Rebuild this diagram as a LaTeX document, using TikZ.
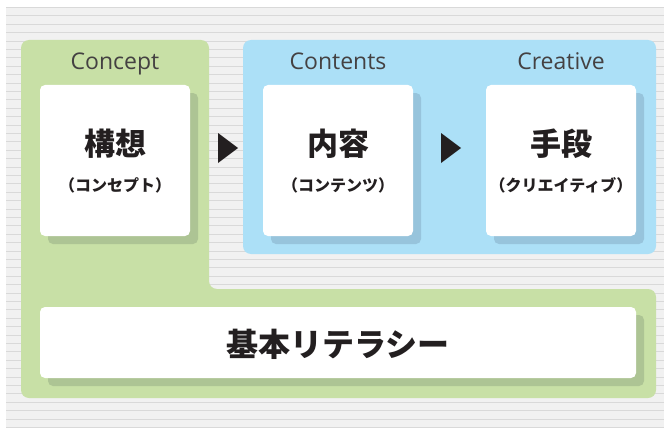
\documentclass[tikz,border=0pt]{standalone}
\usepackage{fontspec}
\setmainfont{Open Sans}
\newfontfamily\cjk{Noto Sans CJK JP}
\usetikzlibrary{shadows}
\definecolor{bgfill}{HTML}{F1F1F1}
\definecolor{bgline}{HTML}{D9D9D9}
\definecolor{gfill}{HTML}{C8E0A6}
\definecolor{gshad}{HTML}{ADC494}
\definecolor{bfill}{HTML}{ACE0F7}
\definecolor{bshad}{HTML}{97C4DC}
\definecolor{ink}{HTML}{231F20}
\tikzset{
  boxbase/.style={fill=white, rounded corners=5pt, inner sep=0pt, draw=none},
  gbox/.style={boxbase, general shadow={fill=gshad, shadow xshift=8pt, shadow yshift=-8pt}},
  bbox/.style={boxbase, general shadow={fill=bshad, shadow xshift=8pt, shadow yshift=-8pt}},
  headlbl/.style={font=\fontsize{23}{23}\selectfont, text=ink!85, anchor=base},
  bigjp/.style={font=\cjk\bfseries\fontsize{31}{31}\selectfont, text=ink},
  subjp/.style={font=\cjk\bfseries\fontsize{16}{16}\selectfont, text=ink},
  arrowtri/.style={fill=ink}
}
\begin{document}
\begin{tikzpicture}[x=1pt,y=-1pt]
\useasboundingbox (0,0) rectangle (664,428);
% striped background
\fill[bgfill] (6,7) rectangle (664,428);
\foreach \i in {0,...,50} {
  \draw[bgline, line width=1pt] (6,{7.5+8.4*\i}) -- (664,{7.5+8.4*\i});
}
% green L region
\fill[gfill, rounded corners=8pt] (21,40) -- (209,40) -- (209,289) -- (656,289) -- (656,398) -- (21,398) -- cycle;
% blue region
\fill[bfill, rounded corners=8pt] (243,40) rectangle (656,254);
% header labels
\node[headlbl] (lconcept) at (115,70) {Concept};
\node[headlbl] (lcontents) at (338,70) {Contents};
\node[headlbl] (lcreative) at (561,70) {Creative};
% boxes
\node[gbox, minimum width=150pt, minimum height=151pt] (concept) at (115,160.5) {};
\node[bbox, minimum width=150pt, minimum height=151pt] (contents) at (338,160.5) {};
\node[bbox, minimum width=150pt, minimum height=151pt] (creative) at (561,160.5) {};
\node[gbox, minimum width=596pt, minimum height=71pt] (basic) at (338,342.5) {};
% texts
\node[bigjp] (t1) at (115,144) {構想};
\node[subjp] (s1) at (115,185) {（コンセプト）};
\node[bigjp] (t2) at (338,144) {内容};
\node[subjp] (s2) at (338,185) {（コンテンツ）};
\node[bigjp] (t3) at (561,144) {手段};
\node[subjp] (s3) at (561,185) {（クリエイティブ）};
\node[font=\cjk\bfseries\fontsize{32}{32}\selectfont, text=ink] (t4) at (338,344) {基本リテラシー};
% arrows
\fill[arrowtri] (218,133) -- (238,148) -- (218,163) -- cycle;
\fill[arrowtri] (441,133) -- (461,148) -- (441,163) -- cycle;
\end{tikzpicture}
\end{document}
